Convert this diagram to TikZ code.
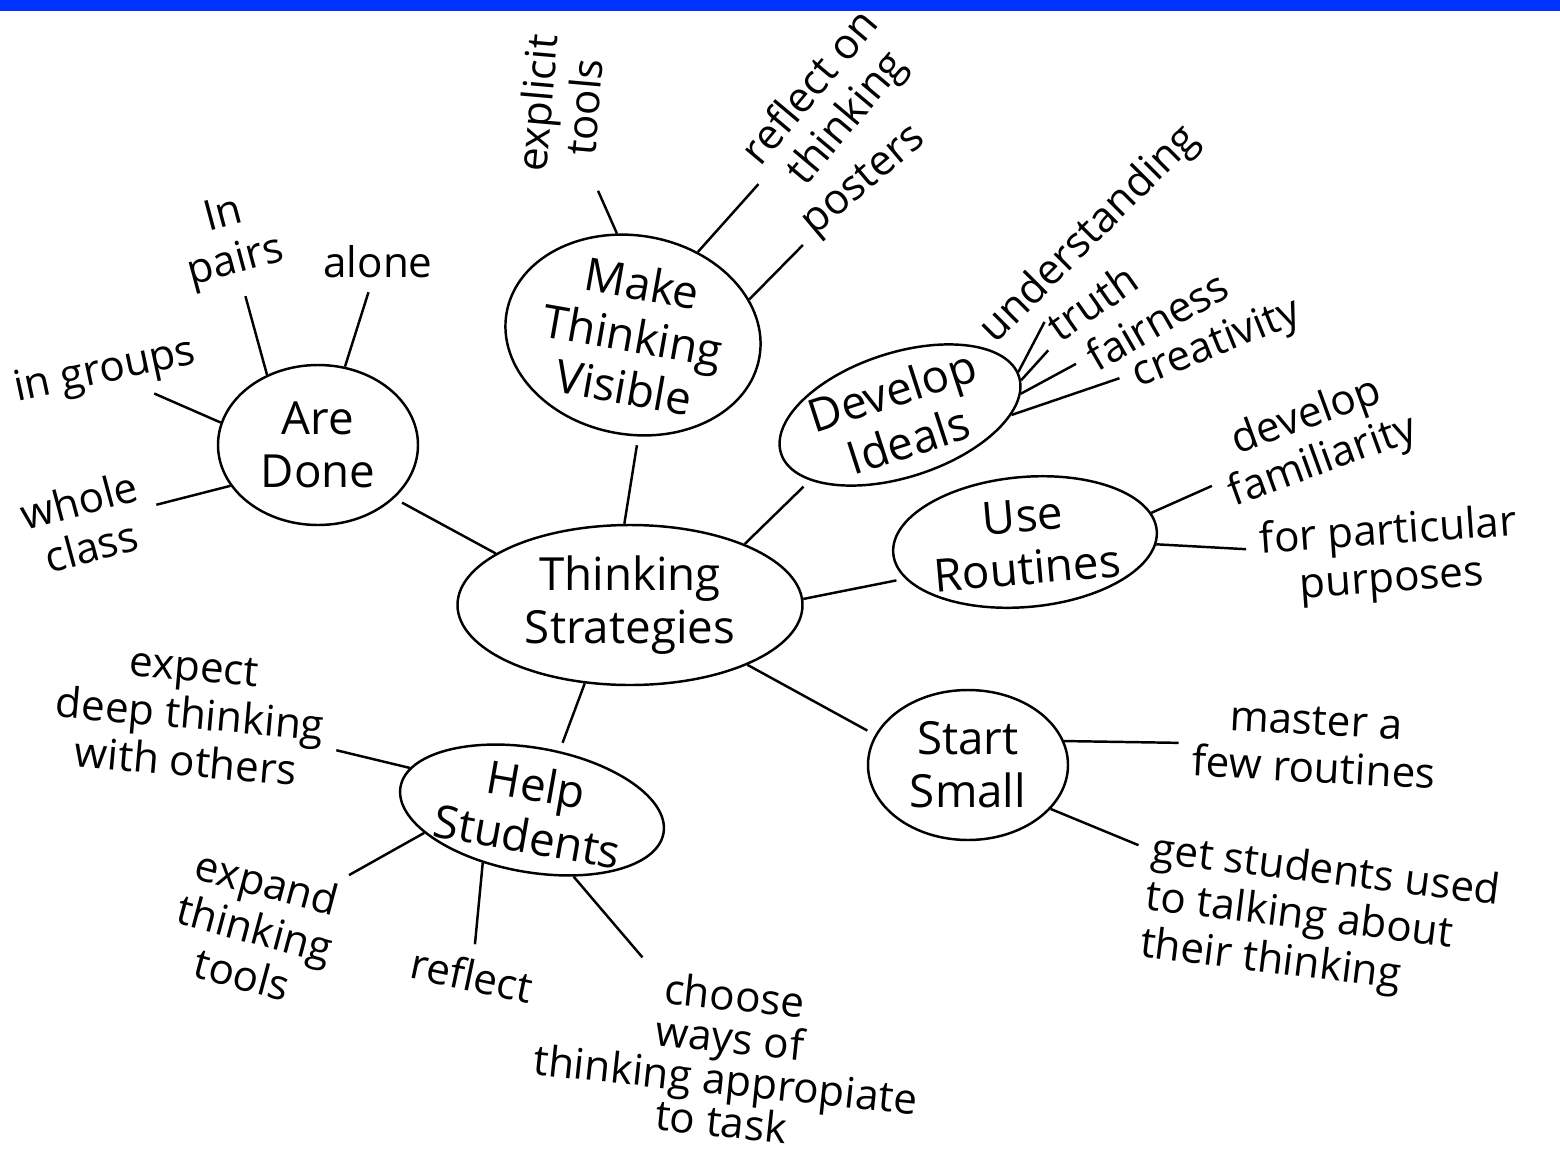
\documentclass[tikz,border=0pt]{standalone}
\usepackage{fontspec}
\setmainfont{Open Sans}
\usetikzlibrary{shapes.geometric}
\definecolor{barblue}{RGB}{0,51,255}
\tikzset{
  bubble/.style={draw, ellipse, line width=1.4pt, align=center, inner sep=0pt,
    font=\fontsize{26}{30}\selectfont},
  leaf/.style={align=center, inner sep=3pt, font=\fontsize{24}{27}\selectfont},
  twig/.style={line width=1.4pt, shorten >=5pt}
}
\begin{document}
\begin{tikzpicture}[x=0.02cm, y=-0.02cm]
  \useasboundingbox (0,0) rectangle (1560,1160);
  \fill[white] (0,0) rectangle (1560,1160);
  \fill[barblue] (0,0) rectangle (1560,11);

  \node[bubble, minimum width=345*0.02cm, minimum height=160*0.02cm] (TS) at (630,605) {Thinking\\Strategies};
  \node[bubble, minimum width=200*0.02cm, minimum height=160*0.02cm] (AD) at (318,445) {Are\\Done};
  \node[bubble, minimum width=215*0.02cm, minimum height=170*0.02cm, rotate=-10] (MTV) at (633,335) {Make\\Thinking\\Visible};
  \node[bubble, minimum width=250*0.02cm, minimum height=115*0.02cm, rotate=18] (DI) at (900,415) {Develop\\Ideals};
  \node[bubble, minimum width=230*0.02cm, minimum height=130*0.02cm, rotate=5] (UR) at (1025,542) {Use\\Routines};
  \node[bubble, minimum width=200*0.02cm, minimum height=150*0.02cm] (SS) at (968,765) {Start\\Small};
  \node[bubble, minimum width=250*0.02cm, minimum height=120*0.02cm, rotate=-10] (HS) at (532,810) {Help\\Students};

  \node[leaf, rotate=15] (pairs) at (230,240) {In\\pairs};
  \node[leaf] (alone) at (378,262) {alone};
  \node[leaf, rotate=12] (groups) at (105,372) {in groups};
  \node[leaf, rotate=15] (class) at (85,523) {whole\\class};
  \node[leaf, rotate=85] (tools) at (560,105) {explicit\\tools};
  \node[leaf, rotate=50] (refl) at (830,104) {reflect on\\thinking};
  \node[leaf, rotate=40] (posters) at (865,182) {posters};
  \node[leaf, rotate=45] (und) at (1090,235) {understanding};
  \node[leaf, rotate=35] (truth) at (1092,302) {truth};
  \node[leaf, rotate=30] (fair) at (1157,320) {fairness};
  \node[leaf, rotate=22] (creat) at (1217,345) {creativity};
  \node[leaf, rotate=20] (fam) at (1315,440) {develop\\familiarity};
  \node[leaf, rotate=4] (purp) at (1390,557) {for particular\\purposes};
  \node[leaf, rotate=-3] (master) at (1315,745) {master a\\few routines};
  \node[leaf, rotate=-7, align=left] (used) at (1320,920) {get students used\\to talking about\\their thinking};
  \node[leaf, rotate=-5] (expect) at (190,715) {expect\\deep thinking\\with others};
  \node[leaf, rotate=-15] (expand) at (255,928) {expand\\thinking\\tools};
  \node[leaf, rotate=-12] (reflect) at (472,975) {reflect};
  \node[leaf, rotate=-6, font=\fontsize{24}{24}\selectfont] (choose) at (728,1058) {choose\\ways of\\thinking appropiate\\to task};

  \draw[twig]
   (TS.159) edge (AD.325)
   (TS.94) edge (MTV.283)
   (TS.28) edge (DI.198)
   (TS.2) edge (UR.192)
   (TS.333) edge (SS.162)
   (TS.240) edge (HS.75)
   (AD.126) edge (pairs)
   (AD.71) edge (alone)
   (AD.167) edge (groups)
   (AD.205) edge (class)
   (MTV.109) edge (tools)
   (MTV.62) edge (refl)
   (MTV.27) edge (posters)
   (DI.2) edge (und)
   (DI.358) edge (truth)
   (DI.352) edge (fair)
   (DI.342) edge (creat)
   (UR.8) edge (fam)
   (UR.354) edge (purp)
   (SS.14) edge (master)
   (SS.332) edge (used)
   (HS.171) edge (expect)
   (HS.202) edge (expand)
   (HS.237) edge (reflect)
   (HS.312) edge (choose);
\end{tikzpicture}
\end{document}
